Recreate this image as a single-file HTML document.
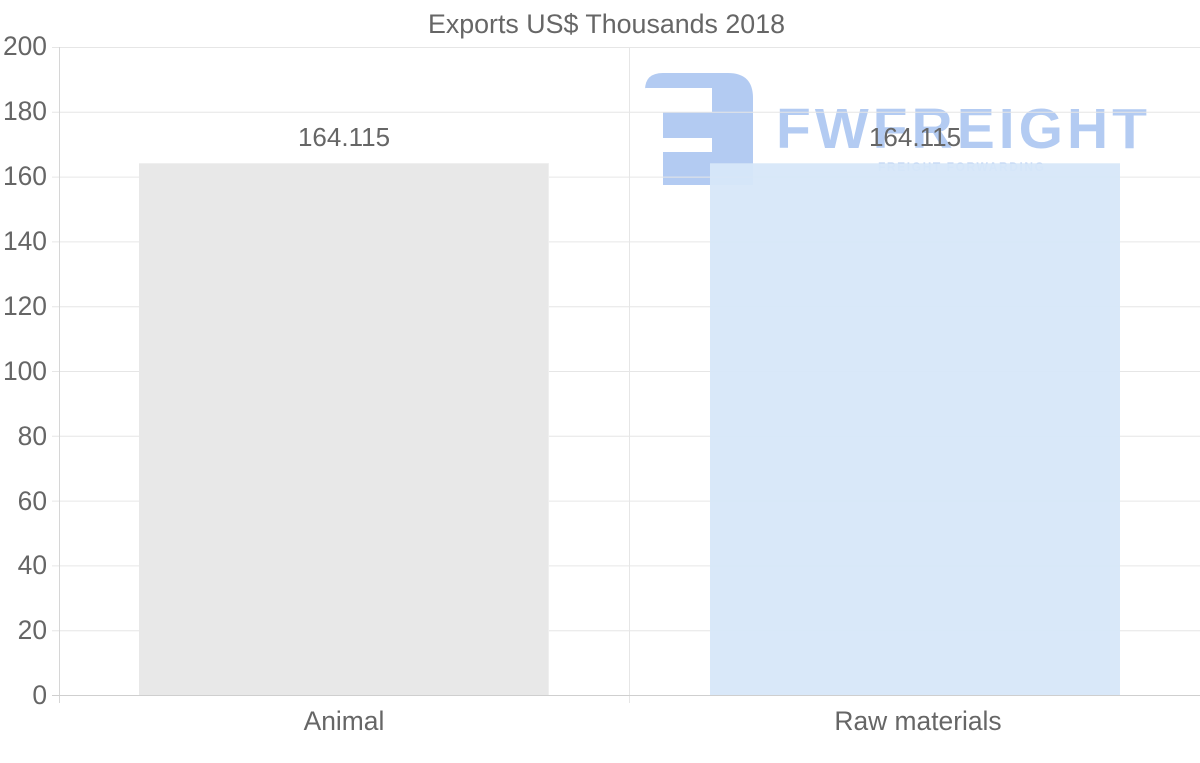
<!DOCTYPE html>
<html>
<head>
<meta charset="utf-8">
<style>
  html,body{margin:0;padding:0;background:#fff;}
  svg{display:block;}
  text{font-family:"Liberation Sans",Arial,sans-serif;fill:#666;}
</style>
</head>
<body>
<svg width="1200" height="763" viewBox="0 0 1200 763" xmlns="http://www.w3.org/2000/svg">
  <rect x="0" y="0" width="1200" height="763" fill="#fff"/>

  <!-- watermark logo -->
  <g fill="#b3cbf2">
    <path d="M663 73 L728 73 Q753 73 753 98 L753 185 L663 185 L663 152 L712 152 L712 138 L663 138 L663 112 L712 112 L712 88 L645 88 L645 90 Q645 73 663 73 Z"/>
    <text x="776" y="148" font-size="57" font-weight="bold" textLength="371" lengthAdjust="spacing" style="fill:#b3cbf2">FWFREIGHT</text>
    <text x="878" y="171" font-size="12" font-weight="bold" textLength="166" lengthAdjust="spacing" style="fill:#b3cbf2">FREIGHT FORWARDING</text>
  </g>

  <!-- horizontal gridlines -->
  <g stroke="#e6e6e6" stroke-width="1">
    <line x1="52" y1="47.5" x2="1200" y2="47.5"/>
    <line x1="52" y1="112.3" x2="1200" y2="112.3"/>
    <line x1="52" y1="177.1" x2="1200" y2="177.1"/>
    <line x1="52" y1="241.9" x2="1200" y2="241.9"/>
    <line x1="52" y1="306.7" x2="1200" y2="306.7"/>
    <line x1="52" y1="371.5" x2="1200" y2="371.5"/>
    <line x1="52" y1="436.3" x2="1200" y2="436.3"/>
    <line x1="52" y1="501.1" x2="1200" y2="501.1"/>
    <line x1="52" y1="565.9" x2="1200" y2="565.9"/>
    <line x1="52" y1="630.7" x2="1200" y2="630.7"/>
    <line x1="629.5" y1="47" x2="629.5" y2="703"/>
  </g>

  <!-- bars -->
  <rect x="139" y="163.3" width="410" height="531.7" fill="#e8e8e8"/>
  <rect x="548" y="163.3" width="1" height="531.7" fill="#efefef"/>
  <rect x="710" y="163.3" width="410" height="531.7" fill="#d7e7f9" fill-opacity="0.95"/>

  <!-- axes -->
  <line x1="59.5" y1="47" x2="59.5" y2="703" stroke="#d6d6d6" stroke-width="1"/>
  <line x1="52" y1="695.5" x2="1200" y2="695.5" stroke="#cfcfcf" stroke-width="1"/>

  <!-- title -->
  <text x="606.5" y="33" font-size="26.8" text-anchor="middle">Exports US$ Thousands 2018</text>

  <!-- y labels -->
  <g font-size="26.4" text-anchor="end">
    <text x="47" y="55">200</text>
    <text x="47" y="120">180</text>
    <text x="47" y="185">160</text>
    <text x="47" y="250">140</text>
    <text x="47" y="315">120</text>
    <text x="47" y="380">100</text>
    <text x="47" y="445">80</text>
    <text x="47" y="510">60</text>
    <text x="47" y="574">40</text>
    <text x="47" y="639">20</text>
    <text x="47" y="704">0</text>
  </g>

  <!-- x labels -->
  <g font-size="26.4" text-anchor="middle">
    <text x="344" y="730">Animal</text>
    <text x="918" y="730">Raw materials</text>
  </g>

  <!-- value labels -->
  <g font-size="26" text-anchor="middle">
    <text x="344" y="146">164.115</text>
    <text x="915" y="146">164.115</text>
  </g>
</svg>
</body>
</html>
